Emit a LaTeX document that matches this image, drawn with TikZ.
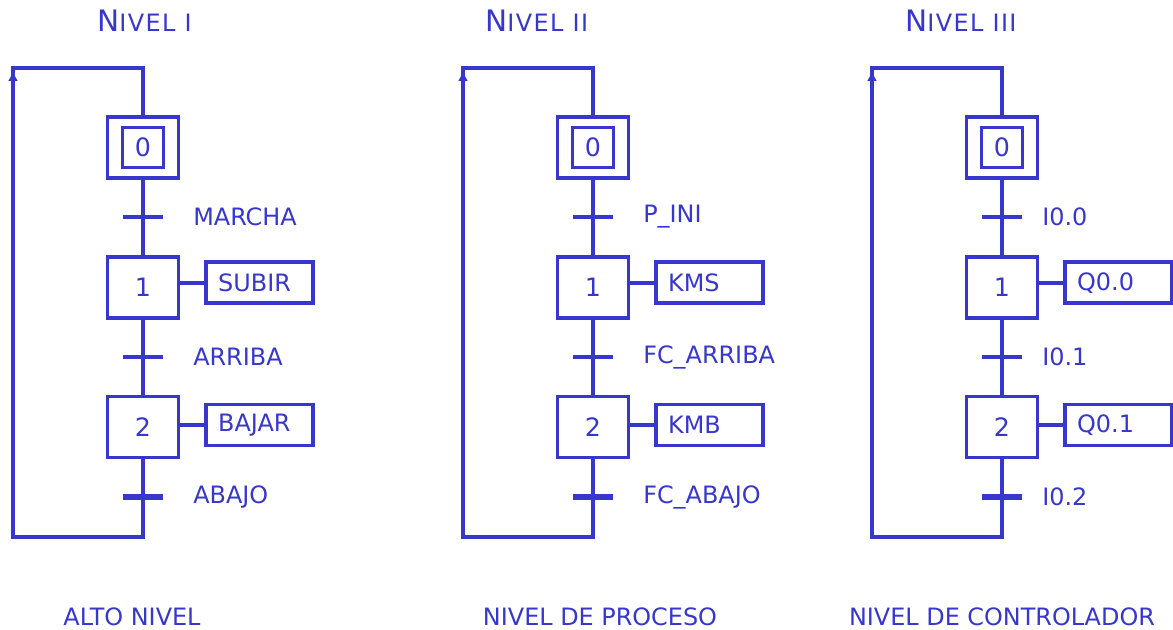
\documentclass[tikz,border=0pt]{standalone}
\usepackage{fontspec}
\setmainfont{DejaVu Sans}
\usepackage{xcolor}
\definecolor{grafcet}{RGB}{55,55,205}
\usepackage{tikz}
\usetikzlibrary{arrows.meta,positioning,calc}
\tikzset{
    etapa/.style={draw=grafcet, line width=2.6pt, minimum width=1.775cm, minimum height=1.525cm, text=grafcet, font=\fontsize{18}{20}\selectfont},
    inicial/.style={draw=grafcet, line width=2.4pt, minimum width=1.025cm, minimum height=1.0cm, inner sep=0pt},
    accion/.style={draw=grafcet, line width=2.6pt, minimum width=2.675cm, minimum height=1.025cm, inner xsep=0.3cm, text width=2.075cm, align=left, text=grafcet, font=\fontsize{17}{19}\selectfont},
    enlace/.style={draw=grafcet, line width=2.8pt},
    receptividad/.style={draw=grafcet, line width=2.8pt},
    etiqueta/.style={text=grafcet, font=\fontsize{17}{19}\selectfont, anchor=west, inner sep=0pt},
    titulo/.style={text=grafcet, anchor=base west, inner sep=0pt},
    pie/.style={text=grafcet, font=\fontsize{17}{19}\selectfont, anchor=base, inner sep=0pt}
}
\newcommand{\nivel}[1]{{\fontsize{21}{23}\selectfont N}{\fontsize{17}{19}\selectfont\addfontfeature{LetterSpace=6}IVEL #1}}
\begin{document}
\begin{tikzpicture}[x=0.025cm, y=-0.025cm]
    \useasboundingbox (0,0) rectangle (1173,630);

    % Titulos
    \node[titulo] (nivel1) at (97, 32) {\nivel{I}};
    \node[titulo] (nivel2) at (485, 32) {\nivel{II}};
    \node[titulo] (nivel3) at (905, 32) {\nivel{III}};

    % Grafcets
    \foreach \i/\cx/\lx/\tA/\tB/\tC/\aA/\aB in {
        1/143/50/MARCHA/ARRIBA/ABAJO/SUBIR/BAJAR,
        2/593/50/P\_INI/FC\_ARRIBA/FC\_ABAJO/KMS/KMB,
        3/1002/40/I0.0/I0.1/I0.2/Q0.0/Q0.1} {
        % Etapas
        \node[etapa] (e0-\i) at (\cx, 147.5) {};
        \node[inicial] (i0-\i) at (e0-\i) {};
        \node[text=grafcet, font=\fontsize{18}{20}\selectfont] (n0-\i) at (e0-\i) {0};
        \node[etapa] (e1-\i) at (\cx, 287.5) {1};
        \node[etapa] (e2-\i) at (\cx, 427) {2};

        % Acciones
        \node[accion, right=0.6cm of e1-\i, yshift=0.12cm] (a1-\i) {\aA};
        \node[accion, right=0.6cm of e2-\i, yshift=0.05cm] (a2-\i) {\aB};
        \draw[enlace] (e1-\i.east |- a1-\i.west) -- (a1-\i.west);
        \draw[enlace] (e2-\i.east |- a2-\i.west) -- (a2-\i.west);

        % Receptividades
        \coordinate (t1-\i) at (\cx, 217);
        \coordinate (t2-\i) at (\cx, 357);
        \coordinate (t3-\i) at (\cx, 497);
        \draw[enlace] (e0-\i) -- (e1-\i);
        \draw[enlace] (e1-\i) -- (e2-\i);
        \draw[receptividad] ($(t1-\i)+(-20,0)$) -- ($(t1-\i)+(20,0)$);
        \draw[receptividad] ($(t2-\i)+(-20,0)$) -- ($(t2-\i)+(20,0)$);
        \draw[receptividad, line width=4pt] ($(t3-\i)+(-20,0)$) -- ($(t3-\i)+(20,0)$);
        \node[etiqueta] (r1-\i) at ($(t1-\i)+(\lx,0)$) {\tA};
        \node[etiqueta] (r2-\i) at ($(t2-\i)+(\lx,0)$) {\tB};
        \node[etiqueta] (r3-\i) at ($(t3-\i)+(\lx,0)$) {\tC};

        % Retorno
        \coordinate (b-\i) at (\cx, 537);
        \coordinate (r-\i) at (\cx-130, 68);
        \coordinate (p-\i) at (\cx-130, 71);
        \coordinate (q-\i) at (\cx-130, 100);
        \draw[enlace, line join=miter] (e2-\i) -- (b-\i) -| (r-\i) -| (e0-\i);
        \draw[enlace, -{Latex[length=7pt, width=7pt]}] (q-\i) -- (p-\i);
    }

    % Pies
    \node[pie] (pie1) at (132, 625) {ALTO NIVEL};
    \node[pie] (pie2) at (600, 625) {NIVEL DE PROCESO};
    \node[pie] (pie3) at (1002, 625) {NIVEL DE CONTROLADOR};
\end{tikzpicture}
\end{document}
